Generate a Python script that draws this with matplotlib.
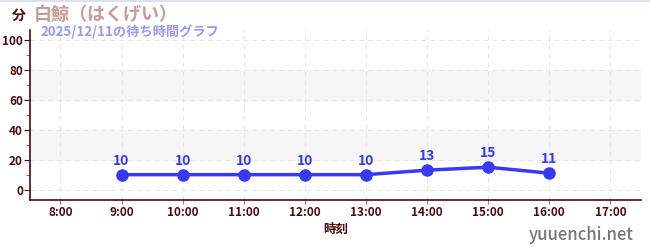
import matplotlib
matplotlib.use("Agg")
import matplotlib.pyplot as plt
from matplotlib.ticker import MultipleLocator, FuncFormatter

plt.rcParams['font.family'] = ['Noto Sans CJK JP', 'DejaVu Sans']

hours = [9, 10, 11, 12, 13, 14, 15, 16]
waits = [10, 10, 10, 10, 10, 13, 15, 11]
xticks = [8, 9, 10, 11, 12, 13, 14, 15, 16, 17]

title = "白鯨（はくげい）"
subtitle = "2025/12/11の待ち時間グラフ"

axisColor = "#4a0a0a"
lineColor = "#3838f5"

fig = plt.figure(figsize=(6.5, 2.5), dpi=100)
ax = fig.add_axes([0.046, 0.2, 0.94, 0.68])

#gray bands behind the grid
for lo, hi in [(20, 40), (60, 80)]:
    ax.axhspan(lo, hi, color="#f6f6f6", zorder=0)

ax.plot(hours, waits, color=lineColor, linewidth=2.5, marker="o", markersize=8, zorder=5)
for h, w in zip(hours, waits):
    ax.annotate(str(w), (h, w), xytext=(0, 5), textcoords="offset points",
                ha="center", va="bottom", color=lineColor, fontsize=10, fontweight="bold")

ax.set_xlim(7.5, 17.5)
ax.set_ylim(-7, 107)
ax.set_xticks(xticks)
ax.xaxis.set_major_formatter(FuncFormatter(lambda v, p: f"{int(v)}:00"))
ax.yaxis.set_major_locator(MultipleLocator(20))
ax.yaxis.set_minor_locator(MultipleLocator(10))

ax.grid(True, which="major", linestyle=(0, (4, 4)), color="#e6e6e6", linewidth=0.8)
ax.set_axisbelow(True)

for side in ["top", "right"]:
    ax.spines[side].set_visible(False)
for side in ["left", "bottom"]:
    ax.spines[side].set_color(axisColor)
    ax.spines[side].set_linewidth(1.2)

ax.tick_params(axis="both", which="major", colors="#222222", labelcolor=axisColor, labelsize=8.5, length=4)
ax.tick_params(axis="x", which="major", color="#888888", length=3, pad=1)
ax.tick_params(axis="y", which="major", pad=1)
ax.tick_params(axis="y", which="minor", colors="#dd2222", length=3)
for lbl in ax.get_xticklabels() + ax.get_yticklabels():
    lbl.set_fontweight("bold")

ax.set_xlabel("時刻", color=axisColor, fontsize=9, fontweight="bold", labelpad=3)

fig.text(0.018, 0.937, "分", color=axisColor, fontsize=10, fontweight="bold", va="center")
fig.text(0.052, 0.944, title, color="#c99a9a", fontsize=13, fontweight="bold", va="center")
fig.text(0.062, 0.874, subtitle, color="#9a9af0", fontsize=9.5, fontweight="bold", va="center")
fig.text(0.975, 0.06, "yuuenchi.net", color="#777777", fontsize=12, fontweight="medium", ha="right", va="center")

fig.add_artist(plt.Line2D([0, 1], [0.998, 0.998], color="#dde0f5", linewidth=1.5))

fig.savefig("out.png", dpi=100)
